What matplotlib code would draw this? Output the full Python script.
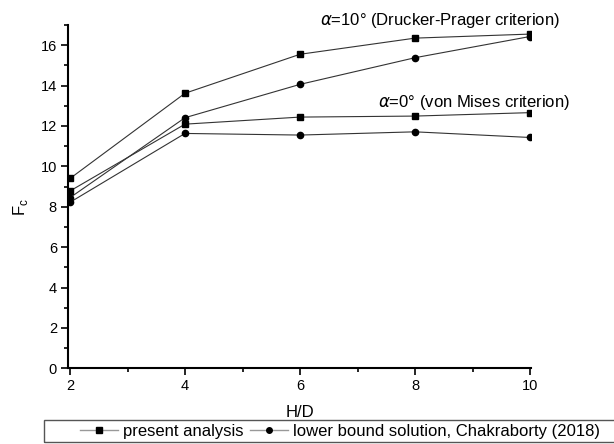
import matplotlib.pyplot as plt
from matplotlib.ticker import MultipleLocator
from matplotlib.patches import Rectangle

plt.rcParams['font.family'] = ['Liberation Sans', 'DejaVu Sans']

hd = [2, 4, 6, 8, 10]
present_a10 = [9.4, 13.62, 15.55, 16.35, 16.55]
lower_a10 = [8.45, 12.41, 14.06, 15.38, 16.43]
present_a0 = [8.78, 12.09, 12.44, 12.49, 12.66]
lower_a0 = [8.22, 11.63, 11.55, 11.71, 11.43]

W, H = 614, 444
fig = plt.figure(figsize=(6.14, 4.44), dpi=100)
ax = fig.add_axes([68/W, (H-368.3)/H, 463/W, 343.3/H])

lc = '#333333'
ax.plot(hd, present_a10, color=lc, lw=0.8, marker='s', ms=4.5, mfc='black', mec='black')
ax.plot(hd, lower_a10, color=lc, lw=0.8, marker='o', ms=4.5, mfc='black', mec='black')
ax.plot(hd, present_a0, color=lc, lw=0.8, marker='s', ms=4.5, mfc='black', mec='black')
ax.plot(hd, lower_a0, color=lc, lw=0.8, marker='o', ms=4.5, mfc='black', mec='black')

ax.set_xlim(1.965, 10.017)
ax.set_ylim(0, 17)
ax.xaxis.set_major_locator(MultipleLocator(2))
ax.xaxis.set_minor_locator(MultipleLocator(1))
ax.yaxis.set_major_locator(MultipleLocator(2))
ax.yaxis.set_minor_locator(MultipleLocator(1))
ax.tick_params(which='major', direction='out', length=5, width=1.2, labelsize=10.5, pad=3)
ax.tick_params(which='minor', direction='out', length=3, width=1.2)
ax.spines['top'].set_visible(False)
ax.spines['right'].set_visible(False)
ax.spines['left'].set_linewidth(1.5)
ax.spines['bottom'].set_linewidth(1.5)

ax.set_xlabel('H/D', fontsize=12)
ax.xaxis.set_label_coords(0.5, (368.3-412)/343.3)
ax.xaxis.label.set_va('center')
ax.set_ylabel('F$_\\mathregular{c}$', fontsize=12)
ax.yaxis.set_label_coords((20-68)/463, 0.47)
ax.yaxis.label.set_va('center')

fig.text(320/W, 1-20/H, r'$\alpha$=10° (Drucker-Prager criterion)', fontsize=12, va='center')
fig.text(378/W, 1-102/H, r'$\alpha$=0° (von Mises criterion)', fontsize=12, va='center')

h1, = ax.plot([], [], color='#999999', lw=1, marker='s', ms=4, mfc='black', mec='black')
h2, = ax.plot([], [], color='#999999', lw=1, marker='o', ms=4, mfc='black', mec='black')
fig.legend([h1, h2], ['present analysis', 'lower bound solution, Chakraborty (2018)'],
           loc='center', bbox_to_anchor=(340/W, 1-431/H), ncol=2, fontsize=12,
           frameon=False, handlelength=2.3, handletextpad=0.3, columnspacing=0.4,
           borderpad=0, borderaxespad=0)
fig.patches.append(Rectangle((44/W, 2/H), (W-44+5)/W, 22/H, transform=fig.transFigure,
                             fill=False, edgecolor='#555555', lw=1))

fig.savefig('out.png', dpi=100)
